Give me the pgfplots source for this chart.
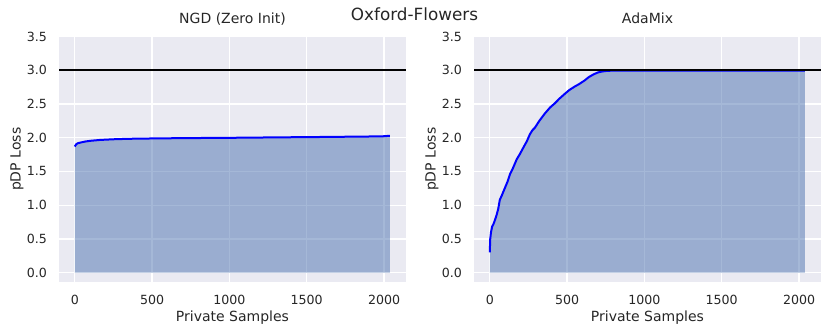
\documentclass[border=0pt]{standalone}
\usepackage{fontspec}
\setmainfont{DejaVu Sans}
\usepackage{pgfplots}
\pgfplotsset{compat=1.18}
\definecolor{sbbg}{HTML}{EAEAF2}
\definecolor{sbtext}{HTML}{262626}
\definecolor{sbblue}{HTML}{4C72B0}
\pgfplotsset{
  sbpanel/.style={
    scale only axis, width=347pt, height=245.3pt,
    anchor=south west,
    xmin=-102, xmax=2142, ymin=-0.14, ymax=3.5,
    axis background/.style={fill=sbbg},
    axis line style={draw=none},
    major tick length=0pt,
    grid=major, major grid style={white, line width=1.3pt},
    xtick={0,500,1000,1500,2000},
    ytick={0,0.5,1,1.5,2,2.5,3,3.5},
    /pgf/number format/assume math mode=true,
    tick label style={font=\fontsize{12.6}{14}\selectfont, text=sbtext},
    xticklabel style={inner sep=0pt, anchor=north, yshift=-13pt,
      /pgf/number format/1000 sep={}},
    yticklabel style={inner sep=0pt, anchor=east, xshift=-11.8pt,
      /pgf/number format/fixed, /pgf/number format/fixed zerofill,
      /pgf/number format/precision=1},
    label style={font=\fontsize{14}{16}\selectfont, text=sbtext},
    xlabel style={at={(axis description cs:0.5,-0.1618)}, anchor=base},
    ylabel style={at={(axis description cs:-0.1104,0.5)}, anchor=base, rotate=0},
    title style={at={(axis description cs:0.5,1.0302)}, anchor=base,
      font=\fontsize{14}{16}\selectfont, text=sbtext},
    xlabel={Private Samples}, ylabel={pDP Loss},
  },
  sbfill/.style={draw=none, fill=sbblue, fill opacity=0.5, forget plot},
  sbline/.style={blue, line width=2pt, line join=round, forget plot},
  sbhline/.style={black, line width=2pt, forget plot},
}
\begin{document}
\begin{tikzpicture}
\useasboundingbox (0,0) rectangle (831pt,333pt);
\node[anchor=base, font=\fontsize{16.8}{19}\selectfont, text=sbtext] at (414.5pt,312.3pt) {Oxford-Flowers};

\begin{axis}[sbpanel, at={(59pt,51pt)}, title={NGD (Zero Init)}]
  \addplot[sbfill] coordinates {(0,0) (0,1.87) (5,1.89) (10,1.905) (20,1.92) (38,1.93) (70,1.945) (100,1.955) (163,1.968) (250,1.978) (350,1.985) (500,1.99) (700,1.995) (1020,2.0) (1300,2.006) (1600,2.012) (1900,2.019) (2000,2.023) (2038,2.03) (2038,0)};
  \addplot[sbline] coordinates {(0,1.87) (5,1.89) (10,1.905) (20,1.92) (38,1.93) (70,1.945) (100,1.955) (163,1.968) (250,1.978) (350,1.985) (500,1.99) (700,1.995) (1020,2.0) (1300,2.006) (1600,2.012) (1900,2.019) (2000,2.023) (2038,2.03)};
  \addplot[sbhline] coordinates {(-102,3) (2142,3)};
\end{axis}

\begin{axis}[sbpanel, at={(474pt,51pt)}, title={AdaMix}]
  \addplot[sbfill] coordinates {(0,0) (0,0.30) (3,0.50) (8,0.60) (15,0.68) (24,0.72) (35,0.79) (45,0.86) (55,0.95) (65,1.08) (77,1.14) (95,1.24) (115,1.35) (131,1.46) (150,1.55) (174,1.68) (195,1.76) (216,1.85) (240,1.95) (259,2.05) (275,2.11) (292,2.15) (320,2.25) (356,2.36) (390,2.45) (420,2.51) (450,2.58) (484,2.65) (515,2.71) (549,2.76) (580,2.80) (613,2.85) (640,2.90) (670,2.94) (700,2.97) (730,2.985) (760,2.993) (800,2.997) (2038,2.997) (2038,0)};
  \addplot[sbline] coordinates {(0,0.30) (3,0.50) (8,0.60) (15,0.68) (24,0.72) (35,0.79) (45,0.86) (55,0.95) (65,1.08) (77,1.14) (95,1.24) (115,1.35) (131,1.46) (150,1.55) (174,1.68) (195,1.76) (216,1.85) (240,1.95) (259,2.05) (275,2.11) (292,2.15) (320,2.25) (356,2.36) (390,2.45) (420,2.51) (450,2.58) (484,2.65) (515,2.71) (549,2.76) (580,2.80) (613,2.85) (640,2.90) (670,2.94) (700,2.97) (730,2.985) (760,2.993) (800,2.997) (2038,2.997)};
  \addplot[sbhline] coordinates {(-102,3) (2142,3)};
\end{axis}
\end{tikzpicture}
\end{document}
